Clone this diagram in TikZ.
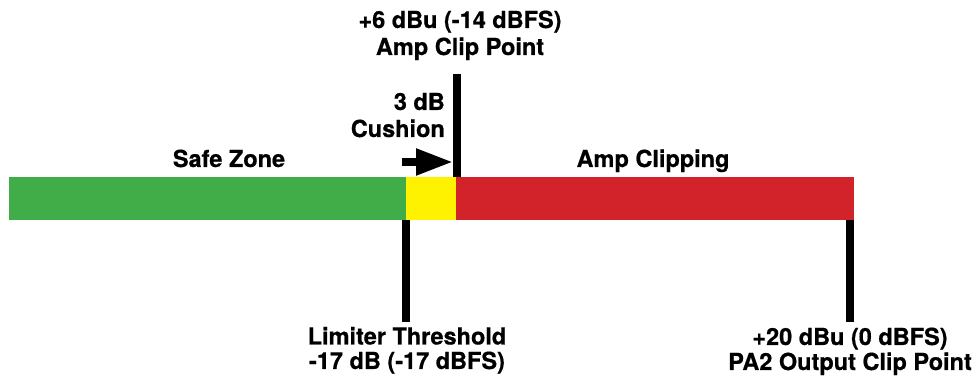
\documentclass[tikz,border=0pt]{standalone}
\usepackage{fontspec}
\setmainfont{TeX Gyre Heros}[BoldFeatures={FakeBold=0.6}]
\usetikzlibrary{arrows.meta}
\definecolor{safegreen}{RGB}{64,173,73}
\definecolor{cushyellow}{RGB}{255,242,0}
\definecolor{clipred}{RGB}{210,35,42}
\begin{document}
\begin{tikzpicture}[x=1pt,y=-1pt,
  lab/.style={font=\fontsize{23.5pt}{27pt}\selectfont\bfseries, inner sep=0pt, align=center},
  mark line/.style={line width=8pt, black},
  seg/.style={draw=none, inner sep=0pt, outer sep=0pt, minimum height=43pt}]
\useasboundingbox (0,0) rectangle (978,379);
% bar segments
\node[seg, fill=safegreen, minimum width=397pt, anchor=north west] (green) at (9,177) {};
\node[seg, fill=cushyellow, minimum width=50pt, anchor=north west] (yellow) at (406,177) {};
\node[seg, fill=clipred, minimum width=398pt, anchor=north west] (red) at (456,177) {};
% marker endpoints
\coordinate (cliptop) at (457,74);
\coordinate (clipbot) at (457,177);
\coordinate (limtop) at (406,220);
\coordinate (limbot) at (406,322);
\coordinate (outtop) at (850,220);
\coordinate (outbot) at (850,322);
\coordinate (arrstart) at (402,162);
\coordinate (arrend) at (453,162);
\draw[mark line] (cliptop) -- (clipbot);
\draw[mark line] (limtop) -- (limbot);
\draw[mark line] (outtop) -- (outbot);
\draw[line width=8pt, -{Triangle[length=37pt,width=25pt]}] (arrstart) -- (arrend);
% labels (base anchor = baseline of last line)
\node[lab, anchor=base] (cliplab) at (460,55) {+6 dBu (-14 dBFS)\\Amp Clip Point};
\node[lab, anchor=base east, align=right] (cush) at (445,137) {3 dB\\Cushion};
\node[lab, anchor=base] (safe) at (229,167) {Safe Zone};
\node[lab, anchor=base] (ampclip) at (653,167) {Amp Clipping};
\node[lab, anchor=base, font=\fontsize{23.5pt}{24.5pt}\selectfont\bfseries] (limlab) at (407,369) {Limiter Threshold\\-17 dB (-17 dBFS)};
\node[lab, anchor=base, font=\fontsize{23.5pt}{25pt}\selectfont\bfseries] (outlab) at (850,370) {+20 dBu (0 dBFS)\\PA2 Output Clip Point};
\end{tikzpicture}
\end{document}
